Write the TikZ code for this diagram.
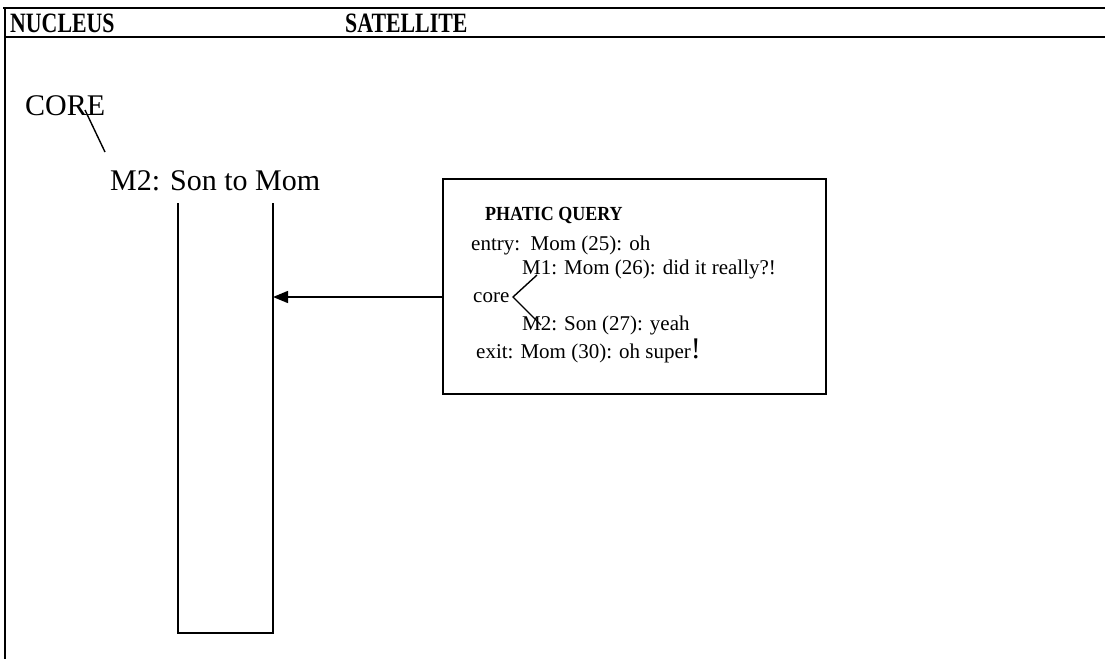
\documentclass[tikz,border=0pt]{standalone}
\usepackage{fontspec}
\setmainfont{Liberation Serif}
\usetikzlibrary{arrows.meta}
\begin{document}
\begin{tikzpicture}[x=1pt,y=-1pt,
  hdr/.style={anchor=base west,inner sep=0pt,font=\fontsize{28}{32}\selectfont\bfseries},
  big/.style={anchor=base west,inner sep=0pt,font=\fontsize{30}{36}\selectfont},
  txt/.style={anchor=base west,inner sep=0pt,font=\fontsize{21}{25}\selectfont},
  rule/.style={line width=2.6pt},
  thin/.style={line width=1.4pt}]
\useasboundingbox (0,0) rectangle (1105,659);
% frame
\draw[rule] (3,8) -- (1105,8);
\draw[rule] (5,37) -- (1105,37);
\draw[line width=1.6pt] (5,8) -- (5,659);
\node[hdr] (nuc) at (10,32) {\scalebox{0.78}[1]{NUCLEUS}};
\node[hdr] (sat) at (345,32) {\scalebox{0.78}[1]{SATELLITE}};
% nucleus side
\node[big] (core) at (25,115) {CORE};
\node[big] (m2) at (110,190) {M2: Son to Mom};
\coordinate (c1) at (85,110);
\coordinate (c2) at (105,152);
\draw[thin] (c1) -- (c2);
\coordinate (ua) at (178,203);
\coordinate (ub) at (178,633);
\coordinate (uc) at (273,633);
\coordinate (ud) at (273,203);
\draw[thin] (ua) -- (ub) -- (uc) -- (ud);
\coordinate (tip) at (273,297);
% satellite box
\node[draw,line width=1.6pt,minimum width=383pt,minimum height=215pt,anchor=north west,inner sep=0pt] (box) at (442,178) {};
\draw[thin,-{Triangle[length=15pt,width=12pt]}] (box.west |- tip) -- (tip);
\node[txt,font=\fontsize{20}{24}\selectfont\bfseries] (pq) at (485,220) {\scalebox{0.9}[1]{PHATIC QUERY}};
\node[txt] (entry) at (471,250) {entry:\ \ Mom (25): oh};
\node[txt] (m1) at (522,274) {M1: Mom (26): did it really?!};
\node[txt] (corel) at (473,302) {core};
\node[txt] (m2s) at (522,330) {M2: Son (27): yeah};
\node[txt] (exit) at (476,358) {exit: Mom (30): oh super{\fontsize{30}{30}\selectfont!}};
\coordinate (k0) at (513,297);
\coordinate (k1) at (537,275);
\coordinate (k2) at (541,325);
\draw[thin] (k1) -- (k0) -- (k2);
\end{tikzpicture}
\end{document}
